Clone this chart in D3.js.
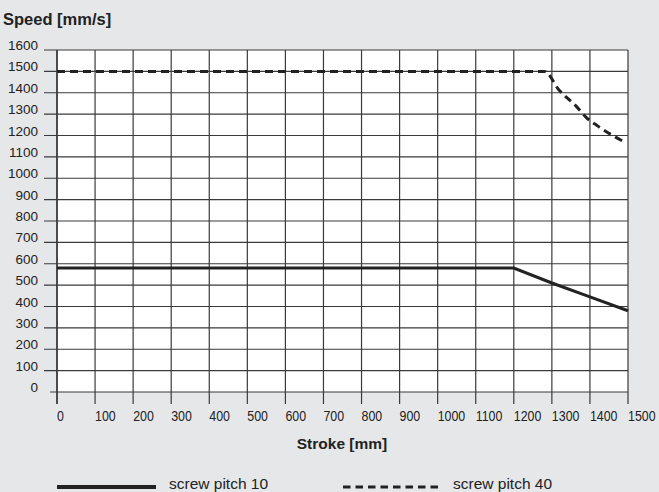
<!DOCTYPE html>
<html lang="en">
<head>
<meta charset="UTF-8">
<title>Speed vs stroke</title>
<script src="https://cdn.jsdelivr.net/npm/d3@7"></script>
<style>
  body { margin: 0; background: #e6e7e9; }
  svg { display: block; }
</style>
</head>
<body>
<script>
// values
var xTicks = [0, 100, 200, 300, 400, 500, 600, 700, 800, 900, 1000, 1100, 1200, 1300, 1400, 1500];
var yTicks = [0, 100, 200, 300, 400, 500, 600, 700, 800, 900, 1000, 1100, 1200, 1300, 1400, 1500, 1600];

// screw pitch 10
var pitch10Stroke = [0, 1200, 1300, 1400, 1500];
var pitch10Speed  = [580, 580, 510, 445, 380];

// screw pitch 40
var pitch40Stroke = [0, 1280, 1320, 1365, 1390, 1420, 1455, 1490];
var pitch40Speed  = [1500, 1500, 1410, 1335, 1285, 1245, 1205, 1170];

var w = 659, h = 492;

var svg = d3.select("body").append("svg")
  .attr("width", w)
  .attr("height", h)
  .style("background-color", "#e6e7e9");

var x = d3.scaleLinear().domain([0, 1500]).range([57, 628]);
var y = d3.scaleLinear().domain([0, 1600]).range([392, 50]);

// white plot area
svg.append("rect")
  .attr("x", x(0)).attr("y", y(1600))
  .attr("width", x(1500) - x(0)).attr("height", y(0) - y(1600))
  .attr("fill", "#fff");

// horizontal grid lines (with the little tick stub on the left)
svg.selectAll("line.hgrid")
  .data(yTicks)
  .enter()
  .append("line")
  .attr("class", "hgrid")
  .attr("x1", function(d) { return d === 0 ? 50 : 44 })
  .attr("x2", x(1500))
  .attr("y1", function(d) { return y(d) })
  .attr("y2", function(d) { return y(d) })
  .attr("stroke", "#3a3a3a")
  .attr("stroke-width", 1.2);

// vertical grid lines, running down into the tick marks
svg.selectAll("line.vgrid")
  .data(xTicks)
  .enter()
  .append("line")
  .attr("class", "vgrid")
  .attr("x1", function(d) { return x(d) })
  .attr("x2", function(d) { return x(d) })
  .attr("y1", y(1600))
  .attr("y2", y(0) + 12)
  .attr("stroke", "#3a3a3a")
  .attr("stroke-width", function(d) { return d === 0 ? 1.8 : 1.2 });

// y tick labels
svg.selectAll("text.ylab")
  .data(yTicks)
  .enter()
  .append("text")
  .attr("class", "ylab")
  .attr("x", 38)
  .attr("y", function(d) { return y(d) })
  .attr("text-anchor", "end")
  .attr("font-family", "Liberation Sans, Arial, sans-serif")
  .attr("font-size", 13.5)
  .attr("fill", "#222")
  .text(function(d) { return d });

// x tick labels (left-aligned on the tick, squeezed like the narrow original)
svg.selectAll("text.xlab")
  .data(xTicks)
  .enter()
  .append("text")
  .attr("class", "xlab")
  .attr("transform", function(d) { return "translate(" + x(d) + ",421) scale(0.8,1)" })
  .attr("text-anchor", "start")
  .attr("font-family", "Liberation Sans, Arial, sans-serif")
  .attr("font-size", 15.5)
  .attr("fill", "#222")
  .text(function(d) { return d });

// axis titles
svg.append("text")
  .attr("x", 3).attr("y", 25)
  .attr("font-family", "Liberation Sans, Arial, sans-serif")
  .attr("font-weight", "bold")
  .attr("font-size", 16.5)
  .attr("fill", "#222")
  .text("Speed [mm/s]");

svg.append("text")
  .attr("x", 342).attr("y", 449)
  .attr("text-anchor", "middle")
  .attr("font-family", "Liberation Sans, Arial, sans-serif")
  .attr("font-weight", "bold")
  .attr("font-size", 15.5)
  .attr("fill", "#222")
  .text("Stroke [mm]");

// series lines
var line = d3.line()
  .x(function(d) { return x(d[0]) })
  .y(function(d) { return y(d[1]) });

var p10 = d3.zip(pitch10Stroke, pitch10Speed);
var p40 = d3.zip(pitch40Stroke, pitch40Speed);

svg.append("path")
  .attr("d", line(p10))
  .attr("fill", "none")
  .attr("stroke", "#222")
  .attr("stroke-width", 3);

svg.append("path")
  .attr("d", line.curve(d3.curveMonotoneX)(p40))
  .attr("fill", "none")
  .attr("stroke", "#222")
  .attr("stroke-width", 3)
  .attr("stroke-dasharray", "8,5");

// legend
svg.append("line")
  .attr("x1", 57).attr("x2", 156)
  .attr("y1", 487).attr("y2", 487)
  .attr("stroke", "#222")
  .attr("stroke-width", 4);

svg.append("text")
  .attr("x", 169).attr("y", 489)
  .attr("font-family", "Liberation Sans, Arial, sans-serif")
  .attr("font-size", 15.5)
  .attr("fill", "#222")
  .text("screw pitch 10");

svg.append("line")
  .attr("x1", 343).attr("x2", 438)
  .attr("y1", 487).attr("y2", 487)
  .attr("stroke", "#222")
  .attr("stroke-width", 3)
  .attr("stroke-dasharray", "7.5,5");

svg.append("text")
  .attr("x", 453).attr("y", 489)
  .attr("font-family", "Liberation Sans, Arial, sans-serif")
  .attr("font-size", 15.5)
  .attr("fill", "#222")
  .text("screw pitch 40");
</script>
</body>
</html>
